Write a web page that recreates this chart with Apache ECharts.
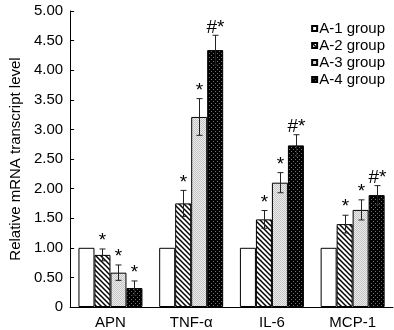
<!DOCTYPE html>
<html>
<head>
<meta charset="utf-8">
<script src="https://cdn.jsdelivr.net/npm/echarts@6/dist/echarts.min.js"></script>
<style>
  html, body { margin: 0; padding: 0; background: #fff; }
  #chart { width: 394px; height: 330px; }
</style>
</head>
<body>
<div id="chart"></div>
<script>
// Relative mRNA transcript levels per marker and group (mean, SD, significance marks)
const categories = ['APN', 'TNF-α', 'IL-6', 'MCP-1'];
const groupNames = ['A-1 group', 'A-2 group', 'A-3 group', 'A-4 group'];

const valuesA1 = [1.00, 1.00, 1.00, 1.00];
const valuesA2 = [0.88, 1.75, 1.48, 1.40];
const valuesA3 = [0.58, 3.21, 2.10, 1.64];
const valuesA4 = [0.32, 4.34, 2.73, 1.89];

const errA2 = [0.10, 0.22, 0.15, 0.15];
const errA3 = [0.13, 0.31, 0.17, 0.17];
const errA4 = [0.12, 0.25, 0.18, 0.16];

const marksA2 = ['*', '*', '*', '*'];
const marksA3 = ['*', '*', '*', '*'];
const marksA4 = ['*', '#*', '#*', '#*'];

const yTicks = { min: 0, max: 5, interval: 0.5 };

const FONT = '"Liberation Sans", Arial, Helvetica, sans-serif';
const BAR_W = 16;

// Fill patterns for the bars
function makePattern(size, draw) {
  const c = document.createElement('canvas');
  c.width = size; c.height = size;
  const ctx = c.getContext('2d');
  draw(ctx, size);
  return { image: c, repeat: 'repeat' };
}
const fillWhite = '#ffffff';
const fillHatch = makePattern(5, (ctx, s) => {
  ctx.fillStyle = '#fff';
  ctx.fillRect(0, 0, s, s);
  ctx.strokeStyle = '#000';
  ctx.lineWidth = 1.5;
  for (let k = -1; k <= 1; k++) {
    ctx.beginPath();
    ctx.moveTo(k * s - 1, -1);
    ctx.lineTo(k * s + s + 1, s + 1);
    ctx.stroke();
  }
});
const fillStipple = makePattern(2, (ctx) => {
  ctx.fillStyle = '#ececec';
  ctx.fillRect(0, 0, 2, 2);
  ctx.fillStyle = '#c4c4c4';
  ctx.fillRect(0, 0, 1, 1);
  ctx.fillRect(1, 1, 1, 1);
});
const fillDark = makePattern(4, (ctx) => {
  ctx.fillStyle = '#000';
  ctx.fillRect(0, 0, 4, 4);
  ctx.fillStyle = '#707070';
  ctx.fillRect(1, 1, 1, 1);
  ctx.fillRect(3, 3, 1, 1);
});

const fills = [fillWhite, fillHatch, fillStipple, fillDark];
const values = [valuesA1, valuesA2, valuesA3, valuesA4];

const barSeries = groupNames.map((name, i) => ({
  name: name,
  type: 'bar',
  data: values[i],
  barWidth: BAR_W,
  barGap: '0%',
  itemStyle: { color: fills[i], borderColor: '#000', borderWidth: 1 },
  emphasis: { disabled: true },
  z: 2
}));

// Error bars with significance marks above them
function errorSeries(groupIndex, vals, errs, marks) {
  return {
    type: 'custom',
    data: vals.map((v, k) => [k, v, errs[k]]),
    encode: { x: 0, y: 1 },
    z: 5,
    silent: true,
    renderItem: function (params, api) {
      const k = api.value(0);
      const v = api.value(1);
      const e = api.value(2);
      const off = (groupIndex - 1.5) * BAR_W;
      const top = api.coord([k, v + e]);
      const bot = api.coord([k, v - e]);
      const x = Math.round(top[0] + off) + 0.5;
      const cap = 3;
      const stroke = { stroke: '#222', lineWidth: 1 };
      return {
        type: 'group',
        children: [
          { type: 'line', shape: { x1: x, y1: top[1], x2: x, y2: bot[1] }, style: stroke },
          { type: 'line', shape: { x1: x - cap, y1: top[1], x2: x + cap, y2: top[1] }, style: stroke },
          { type: 'line', shape: { x1: x - cap, y1: bot[1], x2: x + cap, y2: bot[1] }, style: stroke },
          {
            type: 'text',
            style: {
              text: marks[params.dataIndex],
              x: x,
              y: top[1] - 8,
              textAlign: 'center',
              textVerticalAlign: 'middle',
              font: '19px ' + FONT,
              fill: '#000'
            }
          }
        ]
      };
    }
  };
}

const chart = echarts.init(document.getElementById('chart'), null, { renderer: 'canvas' });
chart.setOption({
  animation: false,
  backgroundColor: '#fff',
  grid: { left: 57, right: 1, top: 11, bottom: 19 },
  legend: {
    orient: 'vertical',
    right: 4,
    top: 16,
    itemWidth: 5,
    itemHeight: 5,
    itemGap: 2,
    icon: 'rect',
    data: groupNames,
    textStyle: { fontFamily: FONT, fontSize: 15, color: '#000', padding: [0, 0, 0, -3] }
  },
  xAxis: {
    type: 'category',
    data: categories,
    axisLine: { lineStyle: { color: '#000', width: 1 } },
    axisTick: { inside: true, length: 4, lineStyle: { color: '#000' } },
    axisLabel: { fontFamily: FONT, fontSize: 15, color: '#000', margin: 8 },
    splitLine: { show: false }
  },
  yAxis: {
    type: 'value',
    min: yTicks.min,
    max: yTicks.max,
    interval: yTicks.interval,
    name: 'Relative mRNA transcript level',
    nameLocation: 'middle',
    nameRotate: 90,
    nameGap: 47,
    nameTextStyle: { fontFamily: FONT, fontSize: 15, color: '#000' },
    axisLine: { show: true, lineStyle: { color: '#000', width: 1 } },
    axisTick: { show: true, inside: true, length: 4, lineStyle: { color: '#000' } },
    axisLabel: {
      fontFamily: FONT, fontSize: 15, color: '#000', margin: 7,
      formatter: v => (v === 0 ? '0' : v.toFixed(2))
    },
    splitLine: { show: false }
  },
  series: barSeries.concat([
    errorSeries(1, valuesA2, errA2, marksA2),
    errorSeries(2, valuesA3, errA3, marksA3),
    errorSeries(3, valuesA4, errA4, marksA4)
  ])
});
</script>
</body>
</html>
